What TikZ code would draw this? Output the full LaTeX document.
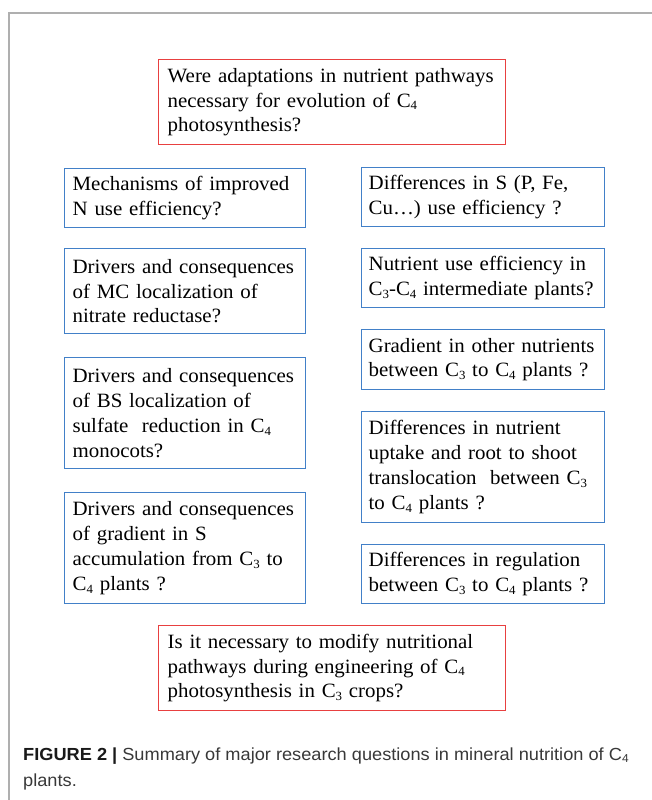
\documentclass[tikz,border=0pt]{standalone}
\usepackage{fontspec}
\setmainfont{Liberation Serif}[FakeStretch=1.03]
\newfontfamily\capfont{Liberation Sans}[FakeStretch=1.04]
\usepackage{tikz}
\definecolor{qred}{RGB}{232,64,64}
\definecolor{qblue}{RGB}{66,128,200}
\definecolor{framegray}{RGB}{175,175,175}
\newcommand{\qsize}{\fontsize{20.3}{24.8}\selectfont}
\newcommand{\capsize}{\fontsize{17.5}{26}\selectfont}
\newcommand{\sbs}[1]{\raisebox{-0.3ex}{\fontsize{12.5}{12.5}\selectfont #1}}
\newcommand{\capsbs}[1]{\raisebox{-0.3ex}{\fontsize{11.5}{11.5}\selectfont #1}}

\begin{document}
\begin{tikzpicture}[x=1pt, y=-1pt,
  qbox/.style={draw, line width=1.3pt, anchor=north west, align=left,
    inner xsep=7pt, inner ysep=0pt, font=\qsize, text=black},
  mainq/.style={qbox, draw=qred, text width=333pt},
  leftq/.style={qbox, draw=qblue, text width=227pt},
  rightq/.style={qbox, draw=qblue, text width=229pt}]
  \useasboundingbox (0,0) rectangle (652,800);

  % Frame
  \draw[framegray, line width=1.5pt] (9,800) -- (9,13) -- (652,13);

  % Main question
  \node[mainq, minimum height=85pt] (topq) at (158,59)
    {\hspace*{2pt}Were adaptations in nutrient pathways\\ \hspace*{2pt}necessary for evolution of C\sbs{4}\\ \hspace*{2pt}photosynthesis?};

  % Left column
  \node[leftq, minimum height=59pt] (nuse) at (64,168)
    {\hspace*{1pt}Mechanisms of improved\\ \hspace*{1pt}N use efficiency?};
  \node[leftq, minimum height=85pt] (nitrate) at (64,248)
    {\hspace*{1pt}Drivers and consequences\\ \hspace*{1pt}of MC localization of\\ \hspace*{1pt}nitrate reductase?};
  \node[leftq, minimum height=111pt] (sulfate) at (64,357)
    {\hspace*{1pt}Drivers and consequences\\ \hspace*{1pt}of BS localization of\\ \hspace*{1pt}sulfate\ \ reduction in C\sbs{4}\\ \hspace*{1pt}monocots?};
  \node[leftq, minimum height=111pt] (sgrad) at (64,492)
    {\hspace*{1pt}Drivers and consequences\\ \hspace*{1pt}of gradient in S\\ \hspace*{1pt}accumulation from C\sbs{3} to\\ \hspace*{1pt}C\sbs{4} plants ?};

  % Right column
  \node[rightq, minimum height=59pt] (suse) at (361,167)
    {Differences in S (P, Fe,\\ Cu…) use efficiency ?};
  \node[rightq, minimum height=59pt] (inter) at (361,248)
    {Nutrient use efficiency in\\ \mbox{C\sbs{3}-C\sbs{4} intermediate plants?}};
  \node[rightq, minimum height=60pt] (ograd) at (361,329)
    {Gradient in other nutrients\\ between C\sbs{3} to C\sbs{4} plants ?};
  \node[rightq, minimum height=111pt] (uptake) at (361,411)
    {Differences in nutrient\\ uptake and root to shoot\\ translocation\ \ between C\sbs{3}\\ to C\sbs{4} plants ?};
  \node[rightq, minimum height=59pt] (regul) at (361,544)
    {Differences in regulation\\ between C\sbs{3} to C\sbs{4} plants ?};

  % Engineering question
  \node[mainq, minimum height=85pt] (botq) at (158,625)
    {\hspace*{2pt}Is it necessary to modify nutritional\\ \hspace*{2pt}pathways during engineering of C\sbs{4}\\ \hspace*{2pt}photosynthesis in C\sbs{3} crops?};

  % Caption
  \node[anchor=base west, inner sep=0pt, font=\capfont\capsize, text=black!78] (cap1) at (23,760)
    {\textcolor{black!90}{\textbf{FIGURE 2 |}} Summary of major research questions in mineral nutrition of C\capsbs{4}};
  \node[anchor=base west, inner sep=0pt, font=\capfont\capsize, text=black!78] (cap2) at (23,786)
    {plants.};
\end{tikzpicture}
\end{document}
